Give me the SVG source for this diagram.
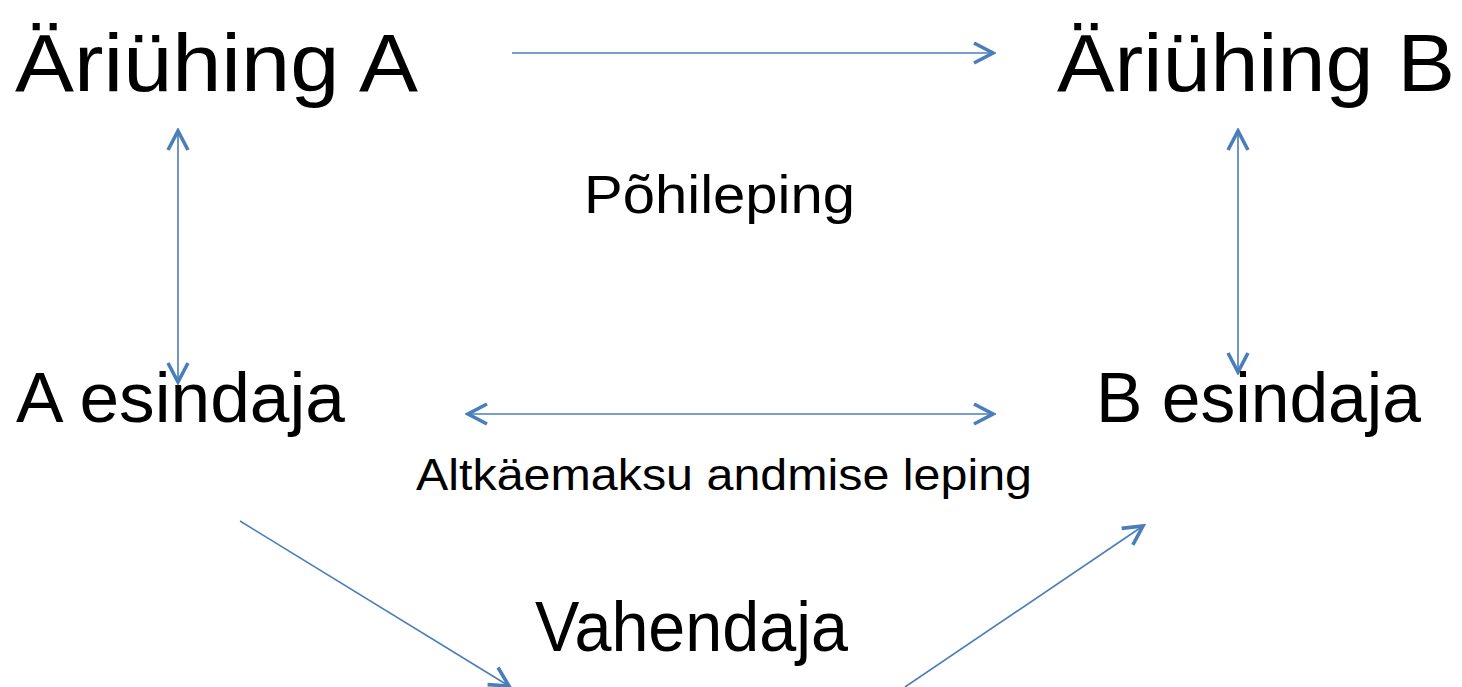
<svg xmlns="http://www.w3.org/2000/svg" width="1462" height="687" viewBox="0 0 1462 687">
<defs>
<style>
.t{font-family:"Liberation Sans","Open Sans",Arial,sans-serif;fill:#000}
.c{stroke:#4A7EBB;stroke-width:1.6;fill:none}
</style>
<marker id="ahL" viewBox="0 0 24 24" refX="21" refY="12" markerWidth="24" markerHeight="24" markerUnits="userSpaceOnUse" orient="auto-start-reverse">
<path d="M2,2 L21,12 L2,22" fill="none" stroke="#4A7EBB" stroke-width="3.6"/>
</marker>
</defs>
<rect width="1462" height="687" fill="#fff"/>
<g id="connectors">
<line class="c" x1="512" y1="53" x2="993" y2="53" marker-end="url(#ahL)"/>
<line class="c" x1="178" y1="131" x2="178" y2="382" marker-start="url(#ahL)" marker-end="url(#ahL)"/>
<line class="c" x1="1238" y1="131" x2="1238" y2="372" marker-start="url(#ahL)" marker-end="url(#ahL)"/>
<line class="c" x1="468" y1="414" x2="993" y2="414" marker-start="url(#ahL)" marker-end="url(#ahL)"/>
<line class="c" x1="240" y1="521" x2="509" y2="686" marker-end="url(#ahL)"/>
<line class="c" x1="905" y1="687" x2="1143" y2="526" marker-end="url(#ahL)"/>
</g>
<g id="node-ariuhing-a"><text class="t" x="15" y="91" font-size="82" textLength="403" lengthAdjust="spacingAndGlyphs">Äriühing A</text></g>
<g id="node-ariuhing-b"><text class="t" x="1057" y="91" font-size="82" textLength="398" lengthAdjust="spacingAndGlyphs">Äriühing B</text></g>
<g id="label-pohileping"><text class="t" x="584" y="213" font-size="53" textLength="271" lengthAdjust="spacingAndGlyphs">Põhileping</text></g>
<g id="node-a-esindaja"><text class="t" x="16" y="422" font-size="71" textLength="329" lengthAdjust="spacingAndGlyphs">A esindaja</text></g>
<g id="node-b-esindaja"><text class="t" x="1096" y="422" font-size="71" textLength="325" lengthAdjust="spacingAndGlyphs">B esindaja</text></g>
<g id="label-altkaemaksu"><text class="t" x="416" y="490" font-size="45" textLength="616" lengthAdjust="spacingAndGlyphs">Altkäemaksu andmise leping</text></g>
<g id="node-vahendaja"><text class="t" x="535" y="651" font-size="71" textLength="313" lengthAdjust="spacingAndGlyphs">Vahendaja</text></g>
</svg>
